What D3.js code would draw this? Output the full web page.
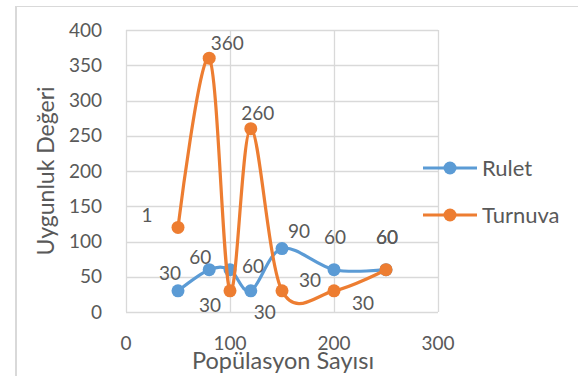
<!DOCTYPE html>
<html><head><meta charset="utf-8">
<script src="https://cdn.jsdelivr.net/npm/d3@7"></script>
<style>body{margin:0;background:#fff}svg{display:block}text{font-family:Lato,"Open Sans",sans-serif;fill:#595959}</style>
</head><body><svg id="c" width="578" height="376"></svg>
<script>
const xValues = [50, 80, 100, 120, 150, 200, 250];
const ruletValues = [30, 60, 60, 30, 90, 60, 60];
const turnuvaValues = [120, 360, 30, 260, 30, 30, 60];
const ruletLabels = ["30", "60", "60", "30", "90", "60", "60"];
const turnuvaLabels = ["1", "360", "30", "260", "30", "30", "60"];
const xTicks = [0, 100, 200, 300];
const yTicks = [0, 50, 100, 150, 200, 250, 300, 350, 400];
const seriesNames = ["Rulet", "Turnuva"];

// label offsets (px) relative to each point
const ruletOff = [[-8,-18],[-9,-12],[23,-3],[14,21],[17,-17],[1,-32],[1,-32]];
const turnuvaOff = [[-31,-12],[18,-15],[-20,14],[7,-15],[28,-11],[29,12],[1,-32]];

const colors = ["#5B9BD5", "#ED7D31"];
const svg = d3.select("#c");
const x = d3.scaleLinear().domain([0, 300]).range([126, 438]);
const y = d3.scaleLinear().domain([0, 400]).range([312, 30]);

// outer border
svg.append("line").attr("x1",16).attr("x2",578).attr("y1",6.5).attr("y2",6.5).attr("stroke","#D9D9D9");
svg.append("line").attr("x1",16).attr("x2",16).attr("y1",6).attr("y2",376).attr("stroke","#D9D9D9").attr("stroke-width",2);

// gridlines
svg.append("g").selectAll("line").data(yTicks).join("line")
  .attr("x1", x(0)).attr("x2", x(300)).attr("y1", d => Math.round(y(d))+0.5).attr("y2", d => Math.round(y(d))+0.5)
  .attr("stroke", "#D9D9D9").attr("stroke-width", 1.3);
svg.append("g").selectAll("line").data(xTicks).join("line")
  .attr("y1", y(0)).attr("y2", y(400)).attr("x1", d => Math.round(x(d))+0.5).attr("x2", d => Math.round(x(d))+0.5)
  .attr("stroke", "#D9D9D9").attr("stroke-width", 1.3);

// tick labels
svg.append("g").selectAll("text").data(yTicks).join("text")
  .attr("x", 102).attr("y", d => y(d)).attr("dy", "0.35em").attr("text-anchor", "end")
  .attr("font-size", 19).text(d => d);
svg.append("g").selectAll("text").data(xTicks).join("text")
  .attr("x", d => x(d)).attr("y", 343).attr("dy", "0.35em").attr("text-anchor", "middle")
  .attr("font-size", 19).text(d => d);

// axis titles
svg.append("text").attr("transform", "translate(46,171) rotate(-90)").attr("dy","0.35em")
  .attr("text-anchor", "middle").attr("font-size", 23).text("Uygunluk Değeri");
svg.append("text").attr("x", 283).attr("y", 369).attr("text-anchor", "middle")
  .attr("font-size", 23.5).text("Popülasyon Sayısı");

const line = d3.line().x(d => x(d[0])).y(d => y(d[1])).curve(d3.curveCardinal.tension(0));
const series = [ruletValues, turnuvaValues];
const labels = [ruletLabels, turnuvaLabels];
const offs = [ruletOff, turnuvaOff];

series.forEach((vals, i) => {
  const pts = xValues.map((xv, j) => [xv, vals[j]]);
  const g = svg.append("g");
  g.append("path").attr("d", line(pts)).attr("fill", "none").attr("stroke", colors[i]).attr("stroke-width", 3.2);
  g.selectAll("circle").data(pts).join("circle")
    .attr("cx", d => x(d[0])).attr("cy", d => y(d[1])).attr("r", 6.5).attr("fill", colors[i]);
});
series.forEach((vals, i) => {
  svg.append("g").selectAll("text").data(xValues).join("text")
    .attr("x", (d, j) => x(d) + offs[i][j][0]).attr("y", (d, j) => y(vals[j]) + offs[i][j][1])
    .attr("dy", "0.35em").attr("text-anchor", "middle").attr("font-size", 19)
    .text((d, j) => labels[i][j]);
});

// legend
seriesNames.forEach((n, i) => {
  const ly = 168 + i * 47;
  svg.append("line").attr("x1", 423).attr("x2", 477).attr("y1", ly).attr("y2", ly)
    .attr("stroke", colors[i]).attr("stroke-width", 3.2);
  svg.append("circle").attr("cx", 450).attr("cy", ly).attr("r", 6.5).attr("fill", colors[i]);
  svg.append("text").attr("x", 482).attr("y", ly).attr("dy", "0.35em").attr("font-size", 22).text(n);
});
</script></body></html>
